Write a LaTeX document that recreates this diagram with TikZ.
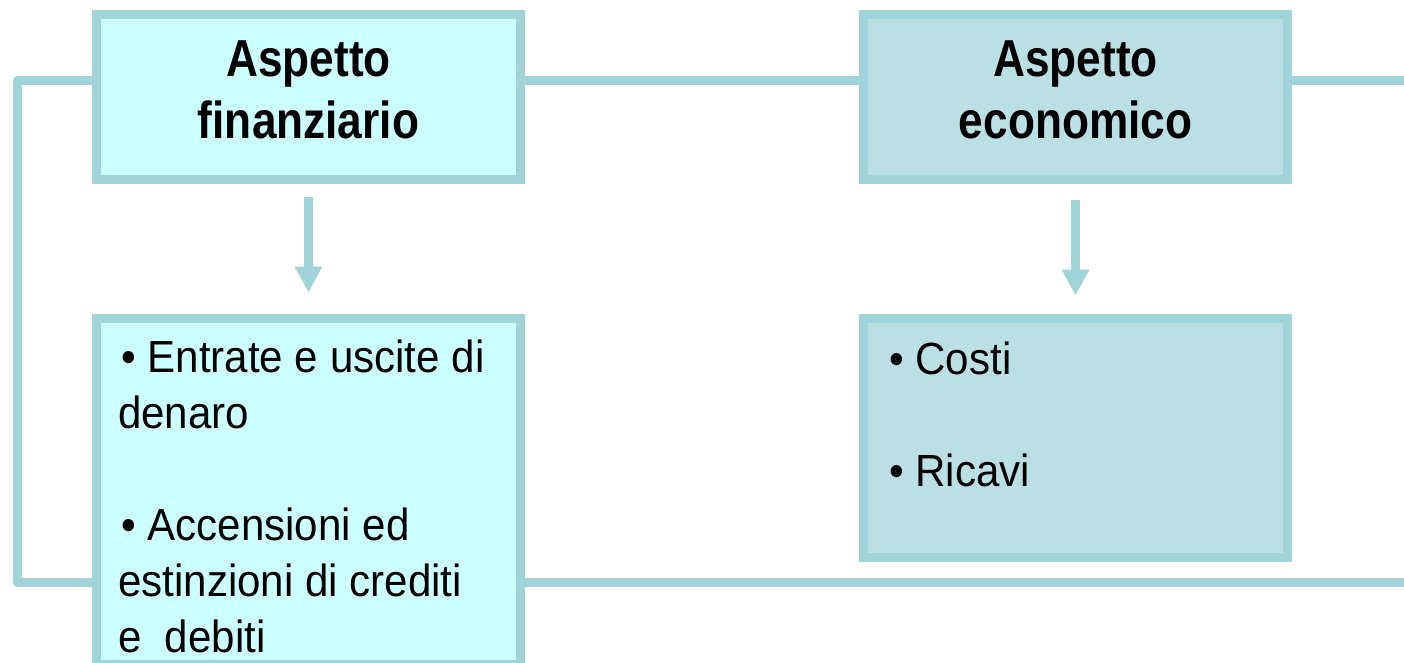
\documentclass[tikz,border=0pt]{standalone}
\usepackage{fontspec}
\setmainfont{Liberation Sans}
\newfontfamily\headfont{Liberation Sans}[FakeStretch=0.85]
\newfontfamily\listfont{Liberation Sans}[FakeStretch=0.935]
\usetikzlibrary{arrows.meta,positioning}
\definecolor{framecol}{RGB}{160,212,216}
\definecolor{finfill}{RGB}{204,255,255}
\definecolor{ecofill}{RGB}{187,224,227}

\begin{document}
\begin{tikzpicture}[
		x=1pt, y=-1pt,
		box/.style={draw=framecol, line width=9pt, inner sep=0pt, minimum width=424pt},
		headbox/.style={box, minimum height=165pt, align=center, text depth=14pt,
			font=\headfont\bfseries\fontsize{52}{62}\selectfont},
		link/.style={draw=framecol, line width=9pt, line join=round},
		flow/.style={link, -{Triangle[width=26pt,length=26pt]}},
		items/.style={align=left, inner sep=0pt, anchor=base west,
			font=\listfont\fontsize{45}{56}\selectfont}
		]
		
		% Page
		\path[use as bounding box, fill=white] (0,0) rectangle (1404,663);
		\clip (0,0) rectangle (1404,663);
		
		% Corners of the frame line
		\coordinate (loopnw) at (17.5,80.5);
		\coordinate (loopsw) at (17.5,582.5);
		\coordinate (loopne) at (1404,80.5);
		\coordinate (loopse) at (1404,582.5);
		
		% Top boxes
		\node[headbox, fill=finfill] (fintop) at (308.5,97) {Aspetto\\finanziario};
		\node[headbox, fill=ecofill] (ecotop) at (1075.5,97) {Aspetto\\economico};
		
		% Bottom boxes
		\node[box, fill=finfill, minimum height=346pt] (finlist) at (308.5,491.5) {};
		\node[box, fill=ecofill, minimum height=239pt] (ecolist) at (1075.5,438) {};
		
		% Lists (placed by their last line)
		\node[items] (finitems) at (118,652) {\kern3pt• Entrate e uscite di\\denaro\\[56pt]\kern3pt• Accensioni ed\\estinzioni di crediti\\e\ \ debiti};
		\node[items] (ecoitems) at (889,486) {• Costi\\[56pt]• Ricavi};
		
		% Frame line
		\draw[link] (fintop.west |- loopnw) -- (loopnw) -- (loopsw) -- (finlist.west |- loopsw);
		\draw[link] (fintop.east |- loopnw) -- (ecotop.west |- loopnw);
		\draw[link] (ecotop.east |- loopne) -- (loopne);
		\draw[link] (finlist.east |- loopse) -- (loopse);
		
		% Arrows
		\draw[flow, shorten <=12.5pt, shorten >=21.5pt] (fintop) -- (finlist);
		\draw[flow, shorten <=15.5pt, shorten >=18.5pt] (ecotop) -- (ecolist);
		
	\end{tikzpicture}
\end{document}
